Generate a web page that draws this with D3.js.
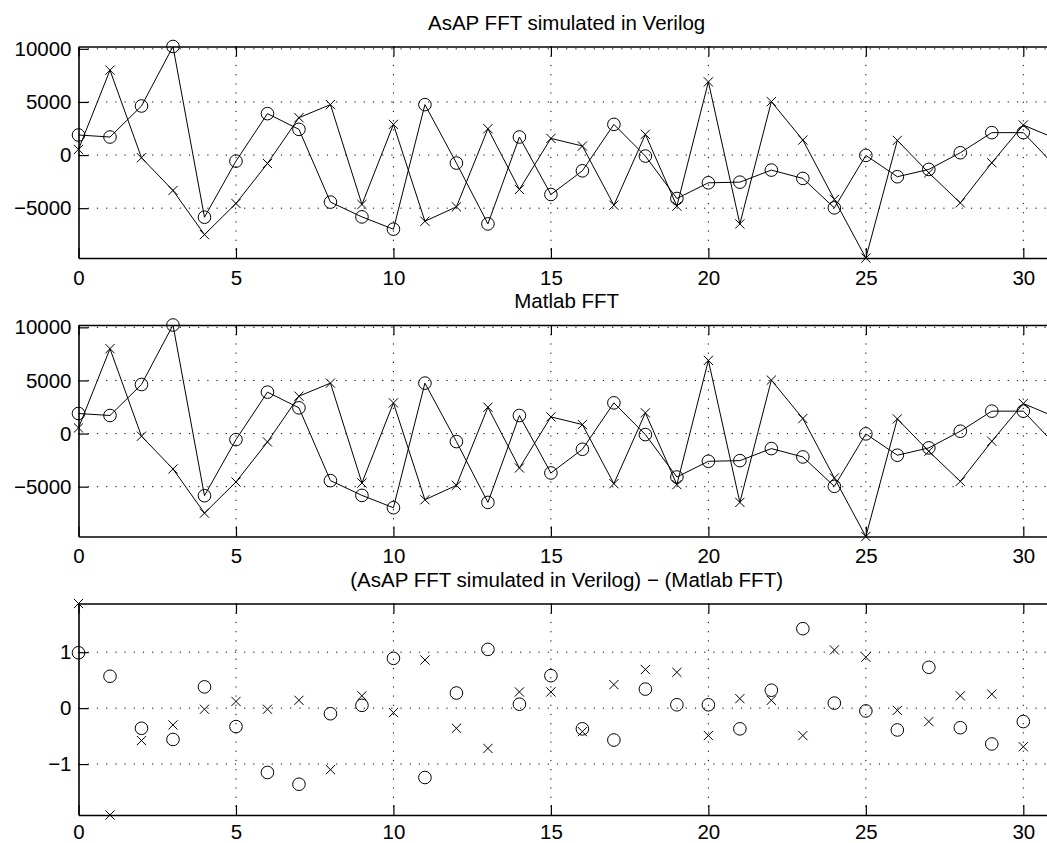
<!DOCTYPE html>
<html>
<head>
<meta charset="utf-8">
<script src="https://cdn.jsdelivr.net/npm/d3@7"></script>
<style>
  body { margin: 0; background: #fff; }
  svg { display: block; }
  text { font-family: "Liberation Sans", Arial, Helvetica, sans-serif; fill: #000; }
</style>
</head>
<body>
<div id="fig"></div>
<script>
// FFT bins 0..31 (the last one is cut off at the right edge)
const bins = d3.range(32);
const diffBins = d3.range(31);

const xTicks = [0, 5, 10, 15, 20, 25, 30];
const fftTicks = [-5000, 0, 5000, 10000];
const diffTicks = [-1, 0, 1];

const titles = [
  "AsAP FFT simulated in Verilog",
  "Matlab FFT",
  "(AsAP FFT simulated in Verilog) \u2212 (Matlab FFT)"
];

// 'x' marker series and 'o' marker series
const verilogCross = [535, 7990, -250, -3330, -7490, -4560, -790, 3520, 4750, -4650, 2890, -6230, -4875, 2480, -3240, 1570,
  850, -4720, 1950, -4810, 6890, -6480, 5030, 1415, -4180, -9690, 1380, -1670, -4500, -720, 2830, 1580];
const verilogCircle = [1890, 1700, 4620, 10220, -5850, -570, 3900, 2420, -4430, -5820, -6980, 4750, -755, -6480, 1700, -3710,
  -1480, 2890, -95, -4090, -2610, -2550, -1415, -2200, -4970, -30, -2040, -1350, 220, 2110, 2110, -1000];

const matlabCross = [535, 7990, -250, -3330, -7490, -4560, -790, 3520, 4750, -4650, 2890, -6230, -4875, 2480, -3240, 1570,
  850, -4720, 1950, -4810, 6890, -6480, 5030, 1415, -4180, -9690, 1380, -1670, -4500, -720, 2830, 1580];
const matlabCircle = [1890, 1700, 4620, 10220, -5850, -570, 3900, 2420, -4430, -5820, -6980, 4750, -755, -6480, 1700, -3710,
  -1480, 2890, -95, -4090, -2610, -2550, -1415, -2200, -4970, -30, -2040, -1350, 220, 2110, 2110, -1000];

const diffCross = [1.87, -1.91, -0.58, -0.30, -0.02, 0.12, -0.02, 0.14, -1.10, 0.22, -0.08, 0.86, -0.36, -0.72, 0.29, 0.29,
  -0.42, 0.42, 0.69, 0.64, -0.49, 0.17, 0.14, -0.49, 1.04, 0.91, -0.04, -0.24, 0.22, 0.25, -0.69];
const diffCircle = [0.99, 0.57, -0.36, -0.56, 0.38, -0.33, -1.15, -1.36, -0.10, 0.05, 0.89, -1.24, 0.27, 1.05, 0.07, 0.58,
  -0.37, -0.57, 0.34, 0.06, 0.06, -0.37, 0.32, 1.42, 0.09, -0.05, -0.39, 0.73, -0.35, -0.64, -0.24];

const width = 1047;
const height = 843;
const fig_left = 78.5;
const fig_right = 1054.8;   // axes run past the window edge
const panel_tops = [46.5, 325, 603.5];
const panel_h = 211.5;
const font_size = 20.5;

const svg = d3.select("#fig").append("svg")
    .attr("width", width)
    .attr("height", height);

const xscale = d3.scaleLinear()
    .domain([0, 31])
    .range([fig_left, fig_right]);

const draw_panel = function(top, title, idx, crossVals, circleVals, yTicks, withLines, xPad) {
  const allVals = crossVals.concat(circleVals);
  const yscale = d3.scaleLinear()
      .domain(d3.extent(allVals))
      .range([top + panel_h, top]);

  const g = svg.append("g");

  // dotted grid
  g.append("g").selectAll("line")
    .data(yTicks)
    .join("line")
      .attr("x1", fig_left).attr("x2", fig_right)
      .attr("y1", d => yscale(d)).attr("y2", d => yscale(d))
      .attr("stroke", "#000")
      .attr("stroke-width", 1)
      .attr("stroke-dasharray", "1.2,8");
  g.append("g").selectAll("line")
    .data(xTicks.filter(d => d > 0))
    .join("line")
      .attr("x1", d => xscale(d)).attr("x2", d => xscale(d))
      .attr("y1", top).attr("y2", top + panel_h)
      .attr("stroke", "#000")
      .attr("stroke-width", 1)
      .attr("stroke-dasharray", "1.2,8");

  // axes, ticks point inwards like matlab
  const fmt = d3.format("d");
  const xAxisB = d3.axisBottom(xscale).tickValues(xTicks).tickSize(-10).tickSizeOuter(0).tickPadding(xPad).tickFormat(fmt);
  const xAxisT = d3.axisTop(xscale).tickValues(xTicks).tickSize(-10).tickSizeOuter(0).tickFormat("");
  const yAxis = d3.axisLeft(yscale).tickValues(yTicks).tickSize(-10).tickSizeOuter(0).tickPadding(7).tickFormat(fmt);

  const styleAxis = sel => {
    sel.select(".domain").attr("stroke", "#000").attr("stroke-width", 1.6);
    sel.selectAll(".tick line").attr("stroke", "#000").attr("stroke-width", 1.2);
    sel.selectAll(".tick text")
      .attr("font-size", font_size)
      .attr("font-family", "Liberation Sans, Arial, sans-serif")
      .attr("fill", "#000");
  };

  g.append("g").attr("transform", `translate(0,${top + panel_h})`).call(xAxisB).call(styleAxis);
  g.append("g").attr("transform", `translate(0,${top})`).call(xAxisT).call(styleAxis);
  g.append("g").attr("transform", `translate(${fig_left},0)`).call(yAxis).call(styleAxis);

  // title
  g.append("text")
    .attr("x", (fig_left + fig_right) / 2)
    .attr("y", top - 17)
    .attr("text-anchor", "middle")
    .attr("font-size", font_size)
    .text(title);

  if (withLines) {
    const makeline = d3.line()
        .x((d, i) => xscale(idx[i]))
        .y(d => yscale(d));
    g.append("path").datum(crossVals)
      .attr("d", makeline).attr("fill", "none").attr("stroke", "#000").attr("stroke-width", 1);
    g.append("path").datum(circleVals)
      .attr("d", makeline).attr("fill", "none").attr("stroke", "#000").attr("stroke-width", 1);
  }

  // o markers
  g.append("g").selectAll("circle")
    .data(circleVals)
    .join("circle")
      .attr("cx", (d, i) => xscale(idx[i]))
      .attr("cy", d => yscale(d))
      .attr("r", 6.3)
      .attr("fill", "none")
      .attr("stroke", "#000")
      .attr("stroke-width", 1);

  // x markers
  const s = 4.6;
  g.append("g").selectAll("path")
    .data(crossVals)
    .join("path")
      .attr("d", (d, i) => {
        const cx = xscale(idx[i]), cy = yscale(d);
        return `M${cx - s},${cy - s}L${cx + s},${cy + s}M${cx - s},${cy + s}L${cx + s},${cy - s}`;
      })
      .attr("fill", "none")
      .attr("stroke", "#000")
      .attr("stroke-width", 1);
};

draw_panel(panel_tops[0], titles[0], bins, verilogCross, verilogCircle, fftTicks, true, 12);
draw_panel(panel_tops[1], titles[1], bins, matlabCross, matlabCircle, fftTicks, true, 12);
draw_panel(panel_tops[2], titles[2], diffBins, diffCross, diffCircle, diffTicks, false, 9);
</script>
</body>
</html>
